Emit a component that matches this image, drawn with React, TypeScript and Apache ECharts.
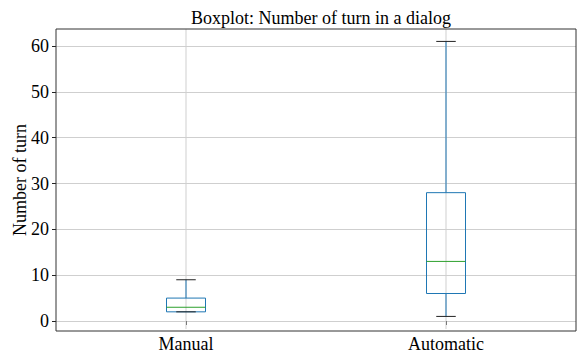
import React, { useEffect, useRef } from "react";
import * as echarts from "echarts";

const categories = ["Manual", "Automatic"];
const whiskerLow = [2, 1];
const q1 = [2, 6];
const median = [3, 13];
const q3 = [5, 28];
const whiskerHigh = [9, 61];
const yTicksMin = 0;
const yTicksMax = 60;
const yViewMin = -1.75;
const yViewMax = 63.7;

const FONT = "Liberation Serif";

export default function App() {
  const ref = useRef<HTMLDivElement>(null);
  useEffect(() => {
    if (!ref.current) return;
    const chart = echarts.init(ref.current, null, { renderer: "svg" });
    const data = categories.map((_, i) => [i, whiskerLow[i], q1[i], median[i], q3[i], whiskerHigh[i]]);
    const option: any = {
      animation: false,
      backgroundColor: "#ffffff",
      title: {
        text: "Boxplot: Number of turn in a dialog",
        left: 316,
        textAlign: "center",
        top: 4,
        textStyle: { fontFamily: FONT, fontSize: 18, fontWeight: "normal", color: "#000" },
      },
      grid: { left: 56, right: 2, top: 46, bottom: 30 },
      xAxis: {
        type: "category",
        data: categories,
        offset: 8,
        axisLine: { show: false },
        axisTick: { show: true, alignWithLabel: true, length: 4, lineStyle: { color: "#222" } },
        axisLabel: { fontFamily: FONT, fontSize: 18, color: "#000", margin: 6 },
        splitLine: { show: false },
      },
      yAxis: {
        type: "value",
        min: yTicksMin,
        max: yTicksMax,
        interval: 10,
        axisLine: { show: false },
        axisTick: { show: true, length: 4, lineStyle: { color: "#222" } },
        axisLabel: { fontFamily: FONT, fontSize: 18, color: "#000", margin: 7 },
        splitLine: { show: true, lineStyle: { color: "#cfcfcf", width: 1 } },
      },
      graphic: [
        {
          type: "rect",
          shape: { x: 56, y: 29, width: 520, height: 302 },
          style: { fill: "none", stroke: "#333", lineWidth: 1 },
          z: 100,
          silent: true,
        },
        {
          type: "text",
          x: 20,
          y: 180,
          rotation: Math.PI / 2,
          style: {
            text: "Number of turn",
            fontFamily: FONT,
            fontSize: 18,
            fill: "#000",
            align: "center",
            verticalAlign: "middle",
          },
        },
      ],
      series: [
        {
          type: "custom",
          clip: false,
          data,
          renderItem: (params: any, api: any) => {
            const idx = api.value(0);
            const band = api.size([1, 0])[0];
            const bw = band * 0.15;
            const cw = bw / 2;
            const x = api.coord([idx, 0])[0];
            const yLow = api.coord([idx, api.value(1)])[1];
            const yQ1 = api.coord([idx, api.value(2)])[1];
            const yMed = api.coord([idx, api.value(3)])[1];
            const yQ3 = api.coord([idx, api.value(4)])[1];
            const yHigh = api.coord([idx, api.value(5)])[1];
            const yTop = api.coord([idx, yViewMax])[1];
            const yBot = api.coord([idx, yViewMin])[1];
            const blue = "#1f77b4";
            return {
              type: "group",
              children: [
                { type: "line", shape: { x1: x, y1: yTop, x2: x, y2: yBot }, style: { stroke: "#cfcfcf", lineWidth: 1 } },
                { type: "line", shape: { x1: x, y1: yQ3, x2: x, y2: yHigh }, style: { stroke: blue, lineWidth: 1 } },
                { type: "line", shape: { x1: x, y1: yQ1, x2: x, y2: yLow }, style: { stroke: blue, lineWidth: 1 } },
                { type: "rect", shape: { x: x - bw / 2, y: yQ3, width: bw, height: yQ1 - yQ3 }, style: { fill: "none", stroke: blue, lineWidth: 1 } },
                { type: "line", shape: { x1: x - bw / 2, y1: yMed, x2: x + bw / 2, y2: yMed }, style: { stroke: "#2ca02c", lineWidth: 1 } },
                { type: "line", shape: { x1: x - cw / 2, y1: yHigh, x2: x + cw / 2, y2: yHigh }, style: { stroke: "#222", lineWidth: 1 } },
                { type: "line", shape: { x1: x - cw / 2, y1: yLow, x2: x + cw / 2, y2: yLow }, style: { stroke: "#222", lineWidth: 1 } },
              ],
            };
          },
        },
      ],
    };
    chart.setOption(option);
    return () => chart.dispose();
  }, []);
  return <div ref={ref} style={{ width: 578, height: 353, position: "absolute", left: 0, top: 0 }} />;
}
